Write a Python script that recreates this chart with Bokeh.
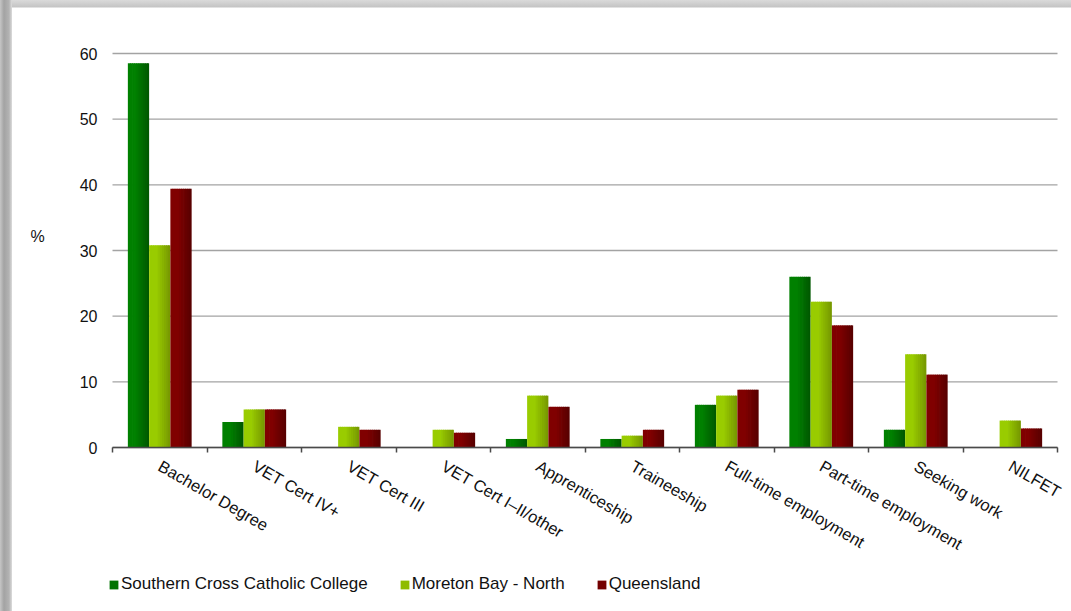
import math
from bokeh.plotting import figure
from bokeh.models import Range1d, FixedTicker, Legend, LegendItem, Label
from bokeh.embed import file_html
from bokeh.resources import INLINE

# ---------------- data ----------------
categories = ["Bachelor Degree", "VET Cert IV+", "VET Cert III", "VET Cert I\u2013II/other",
              "Apprenticeship", "Traineeship", "Full-time employment",
              "Part-time employment", "Seeking work", "NILFET"]
series_names = ["Southern Cross Catholic College", "Moreton Bay - North", "Queensland"]
school = [58.5, 3.9, 0.0, 0.0, 1.3, 1.3, 6.5, 26.0, 2.7, 0.0]
moreton = [30.8, 5.8, 3.15, 2.7, 7.9, 1.8, 7.9, 22.2, 14.2, 4.1]
qld = [39.4, 5.8, 2.7, 2.25, 6.2, 2.7, 8.8, 18.6, 11.1, 2.9]
y_ticks = [0, 10, 20, 30, 40, 50, 60]

# ---------------- layout / styles ----------------
FONT = "Liberation Sans"
TXT = "#111111"
colors_left = [(0, 128, 0), (153, 204, 0), (128, 0, 0)]
colors_right = [(0, 86, 0), (117, 150, 0), (86, 0, 0)]
offsets = [-0.225, 0.0, 0.225]
bar_w = 0.225
N = 10

W, H = 1071, 611
PL, PR, PT, PB = 112, 1057, 53, 447          # plot area in pixels
ncat = len(categories)
ymax = y_ticks[-1]
px_x = (PR - PL) / ncat
px_y = (PB - PT) / ymax
x_range = Range1d(-PL / px_x, ncat + (W - PR) / px_x)
y_range = Range1d(-(H - PB) / px_y, ymax + PT / px_y)

p = figure(width=W, height=H, output_backend="svg", toolbar_location=None,
           x_range=x_range, y_range=y_range,
           min_border_left=0, min_border_right=0, min_border_top=0, min_border_bottom=0)
p.border_fill_color = None
p.background_fill_color = None
p.outline_line_color = None
p.styles = {
    "background": ("linear-gradient(to right, #c6c6c6 0px, #a3a3a3 4px, #b3b3b3 9px, #dcdcdc 12px, rgba(255,255,255,0) 12px), "
                   "linear-gradient(to bottom, #dadada 0px, #c4c4c4 7px, rgba(255,255,255,0) 8px), #ffffff"),
}

# horizontal gridlines over the plot area only
p.segment(x0=[0] * len(y_ticks), x1=[ncat] * len(y_ticks), y0=y_ticks, y1=y_ticks,
          line_color="#a3a3a3", line_width=1.3)


def mix(a, b, t):
    return "#%02x%02x%02x" % tuple(int(round(a[i] + (b[i] - a[i]) * t)) for i in range(3))


legend_items = []
all_series = [school, moreton, qld]
for s, vals in enumerate(all_series):
    rends = []
    for k in range(N):
        t = max(0.0, ((k + 0.5) / N - 0.35) / 0.65)
        col = mix(colors_left[s], colors_right[s], t)
        lefts = [i + 0.5 + offsets[s] - bar_w / 2 + k * bar_w / N for i in range(len(vals))]
        extra = 0.35 * bar_w / N if k < N - 1 else 0.0
        rights = [l + bar_w / N + extra for l in lefts]
        r = p.quad(left=lefts, right=rights, top=vals, bottom=[0] * len(vals),
                   fill_color=col, line_color=None)
        rends.append(r)
    legend_items.append(LegendItem(label=series_names[s], renderers=[rends[N // 2]]))

# grids off (drawn above as segments)
p.xgrid.grid_line_color = None
p.ygrid.grid_line_color = None

# y axis
p.yaxis.fixed_location = 0
p.yaxis.bounds = (0, ymax)
p.yaxis.ticker = FixedTicker(ticks=y_ticks)
p.yaxis.axis_line_color = None
p.yaxis.major_tick_line_color = None
p.yaxis.minor_tick_line_color = None
p.yaxis.major_tick_out = 0
p.yaxis.major_tick_in = 0
p.yaxis.major_label_standoff = 15
p.yaxis.major_label_text_font = FONT
p.yaxis.major_label_text_font_size = "16px"
p.yaxis.major_label_text_color = TXT

# x axis
p.xaxis.fixed_location = 0
p.xaxis.bounds = (0, ncat)
p.xaxis.ticker = FixedTicker(ticks=[i + 0.5 for i in range(ncat)],
                             minor_ticks=list(range(ncat + 1)))
p.xaxis.major_label_overrides = {i + 0.5: c for i, c in enumerate(categories)}
p.xaxis.major_tick_line_color = None
p.xaxis.major_tick_out = 0
p.xaxis.major_tick_in = 0
p.xaxis.minor_tick_line_color = "#4a4a4a"
p.xaxis.minor_tick_out = 5
p.xaxis.minor_tick_in = 0
p.xaxis.minor_tick_line_width = 1.5
p.xaxis.axis_line_color = "#4a4a4a"
p.xaxis.axis_line_width = 1.5
p.xaxis.major_label_orientation = -math.pi / 6
p.xaxis.major_label_standoff = 12
p.xaxis.major_label_text_font = FONT
p.xaxis.major_label_text_font_size = "16.5px"
p.xaxis.major_label_text_color = TXT

# "%" label
p.add_layout(Label(x=0, y=32.2, x_offset=-75, text="%", text_font=FONT, text_font_size="16px",
                   text_align="center", text_baseline="middle", text_color=TXT))

legend = Legend(items=legend_items, orientation="horizontal", location=(108, 17),
                glyph_width=11, glyph_height=11, label_standoff=2, spacing=31,
                label_height=20, padding=0, margin=0, border_line_color=None,
                background_fill_alpha=0,
                label_text_font=FONT, label_text_font_size="17px", label_text_color=TXT)
p.add_layout(legend, "center")

open("out.html", "w").write(file_html(p, INLINE))
